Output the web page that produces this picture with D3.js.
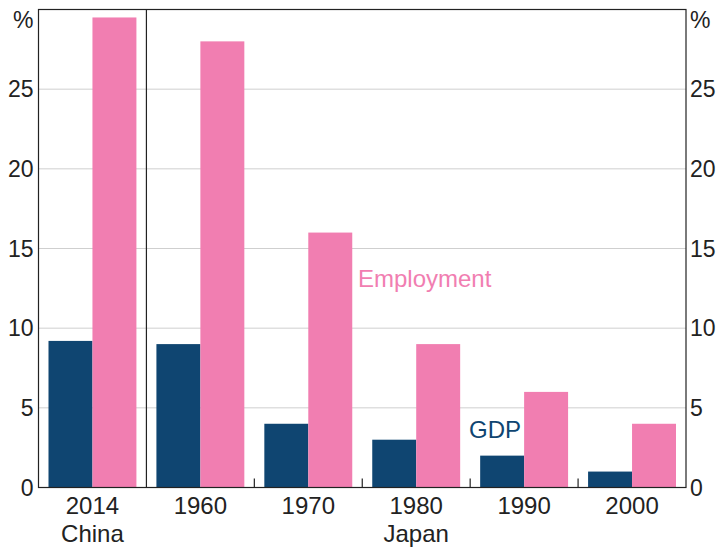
<!DOCTYPE html>
<html>
<head>
<meta charset="utf-8">
<script src="https://cdn.jsdelivr.net/npm/d3@7"></script>
<style>
    body { margin: 0; background: #fff; }
    svg text { font-family: Arial, "Liberation Sans", sans-serif; }
</style>
</head>
<body>
<svg id="chart"></svg>
<script>
// Chart data
const categories = ["2014", "1960", "1970", "1980", "1990", "2000"];
const groups = ["China", "Japan", "Japan", "Japan", "Japan", "Japan"];
const gdp = [9.2, 9, 4, 3, 2, 1];
const employment = [29.5, 28, 16, 9, 6, 4];
const yTicks = [0, 5, 10, 15, 20, 25];

const frameWidth = 720;
const frameHeight = 549;
const margin = {top: 9.5, right: 34, bottom: 61.5, left: 38.5};

const navy = "#0f4571";
const pink = "#f17eb1";
const textColor = "#222";

const svg = d3.select("#chart")
    .attr("width", frameWidth)
    .attr("height", frameHeight);

const x = d3.scaleBand()
    .domain(categories)
    .range([margin.left, frameWidth - margin.right]);

const y = d3.scaleLinear()
    .domain([0, 30])
    .range([frameHeight - margin.bottom, margin.top]);

const barPad = 10;
const barWidth = (x.bandwidth() - 2 * barPad) / 2;

// Gridlines
svg.append("g")
    .selectAll("line")
    .data(yTicks.filter(d => d > 0))
    .join("line")
    .attr("x1", x.range()[0])
    .attr("x2", x.range()[1])
    .attr("y1", d => y(d))
    .attr("y2", d => y(d))
    .attr("stroke", "#cfcfcf")
    .attr("stroke-width", 1);

// Bars
const bars = svg.append("g");
bars.selectAll("rect.gdp")
    .data(categories)
    .join("rect")
    .attr("class", "gdp")
    .attr("x", d => x(d) + barPad)
    .attr("width", barWidth)
    .attr("y", (d, i) => y(gdp[i]))
    .attr("height", (d, i) => y(0) - y(gdp[i]))
    .attr("fill", navy);

bars.selectAll("rect.emp")
    .data(categories)
    .join("rect")
    .attr("class", "emp")
    .attr("x", d => x(d) + barPad + barWidth)
    .attr("width", barWidth)
    .attr("y", (d, i) => y(employment[i]))
    .attr("height", (d, i) => y(0) - y(employment[i]))
    .attr("fill", pink);

// Frame
svg.append("rect")
    .attr("x", x.range()[0])
    .attr("y", y(30))
    .attr("width", x.range()[1] - x.range()[0])
    .attr("height", y(0) - y(30))
    .attr("fill", "none")
    .attr("stroke", textColor)
    .attr("stroke-width", 1.2);

// China / Japan divider
svg.append("line")
    .attr("x1", x("1960"))
    .attr("x2", x("1960"))
    .attr("y1", y(30))
    .attr("y2", y(0))
    .attr("stroke", textColor)
    .attr("stroke-width", 1.2);

// Small ticks between Japan categories
svg.append("g")
    .selectAll("line")
    .data(categories.slice(2))
    .join("line")
    .attr("x1", d => x(d))
    .attr("x2", d => x(d))
    .attr("y1", y(0) - 9)
    .attr("y2", y(0))
    .attr("stroke", textColor)
    .attr("stroke-width", 1.2);

// Y axis labels, both sides
const yLabelSize = "23px";
const xLabelSize = "24px";

svg.append("g")
    .selectAll("text")
    .data(yTicks)
    .join("text")
    .attr("x", margin.left - 5)
    .attr("y", d => y(d) + 8.3)
    .attr("text-anchor", "end")
    .attr("font-size", yLabelSize)
    .attr("fill", textColor)
    .text(d => d);

svg.append("g")
    .selectAll("text")
    .data(yTicks)
    .join("text")
    .attr("x", x.range()[1] + 4)
    .attr("y", d => y(d) + 8.3)
    .attr("text-anchor", "start")
    .attr("font-size", yLabelSize)
    .attr("fill", textColor)
    .text(d => d);

svg.append("text")
    .attr("x", margin.left - 5)
    .attr("y", y(30) + 18)
    .attr("text-anchor", "end")
    .attr("font-size", yLabelSize)
    .attr("fill", textColor)
    .text("%");

svg.append("text")
    .attr("x", x.range()[1] + 4)
    .attr("y", y(30) + 18)
    .attr("text-anchor", "start")
    .attr("font-size", yLabelSize)
    .attr("fill", textColor)
    .text("%");

// X category labels
svg.append("g")
    .selectAll("text")
    .data(categories)
    .join("text")
    .attr("x", d => x(d) + x.bandwidth() / 2)
    .attr("y", y(0) + 26)
    .attr("text-anchor", "middle")
    .attr("font-size", xLabelSize)
    .attr("fill", textColor)
    .text(d => d);

// Group labels
svg.append("text")
    .attr("x", x("2014") + x.bandwidth() / 2)
    .attr("y", y(0) + 54)
    .attr("text-anchor", "middle")
    .attr("font-size", xLabelSize)
    .attr("fill", textColor)
    .text(groups[0]);

svg.append("text")
    .attr("x", x("1980") + x.bandwidth() / 2)
    .attr("y", y(0) + 54)
    .attr("text-anchor", "middle")
    .attr("font-size", xLabelSize)
    .attr("fill", textColor)
    .text(groups[3]);

// Series labels
svg.append("text")
    .attr("x", 358)
    .attr("y", 287)
    .attr("font-size", "24px")
    .attr("fill", pink)
    .text("Employment");

svg.append("text")
    .attr("x", 469)
    .attr("y", 438)
    .attr("font-size", "24px")
    .attr("fill", navy)
    .text("GDP");
</script>
</body>
</html>
